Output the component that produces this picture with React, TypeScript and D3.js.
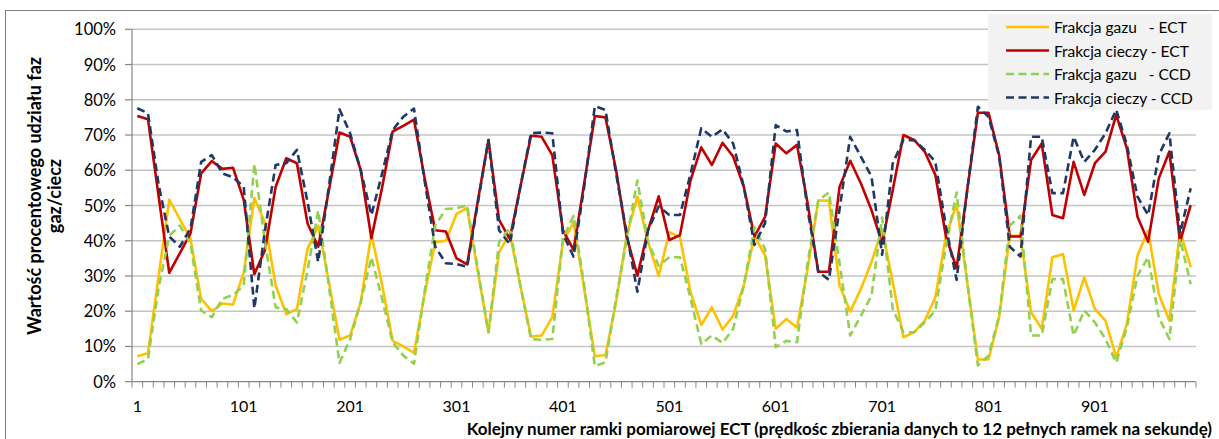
import React from "react";
import * as d3 from "d3";

// Categories: frame numbers 1, 11, 21, ... 991
const frames: number[] = d3.range(1, 1000, 10);
const xTickLabels = ["1", "101", "201", "301", "401", "501", "601", "701", "801", "901"];
const yTicks = [0, 10, 20, 30, 40, 50, 60, 70, 80, 90, 100];

const gasECT = [
  7.2, 8.1, 29.9, 51.7, 46.1, 40.5, 23.5, 20.0, 22.2, 21.9,
  31.0, 52.1, 45.2, 27.3, 19.2, 20.6, 37.7, 44.3, 28.4, 11.9,
  13.1, 22.6, 41.9, 27.6, 11.6, 10.0, 8.2, 24.8, 39.6, 40.0,
  47.6, 49.3, 31.3, 14.0, 36.7, 42.1, 27.3, 12.8, 13.1, 18.3,
  39.6, 45.2, 26.3, 7.2, 7.6, 22.6, 41.6, 52.5, 39.6, 30.0,
  42.4, 41.0, 25.4, 16.1, 21.1, 14.8, 18.7, 27.3, 41.4, 35.8,
  15.0, 17.8, 15.4, 32.0, 51.4, 51.4, 27.3, 19.9, 26.3, 33.9,
  43.3, 28.2, 12.6, 14.0, 17.3, 23.9, 41.4, 50.4, 28.2, 6.3,
  6.3, 18.3, 41.4, 41.4, 19.7, 15.0, 35.3, 36.2, 20.2, 29.6,
  20.6, 17.3, 6.9, 16.4, 35.8, 42.9, 24.9, 17.3, 42.9, 32.5,
];
const liquidECT = [
  75.4, 74.5, 52.7, 30.9, 36.5, 42.1, 59.1, 62.6, 60.4, 60.7,
  51.6, 30.5, 37.4, 55.3, 63.4, 62.0, 44.9, 38.3, 54.2, 70.7,
  69.5, 60.0, 40.7, 55.0, 71.0, 72.6, 74.4, 57.8, 43.0, 42.6,
  35.0, 33.3, 51.3, 68.6, 45.9, 40.5, 55.3, 69.8, 69.5, 64.3,
  43.0, 37.4, 56.3, 75.4, 75.0, 60.0, 41.0, 30.1, 43.0, 52.6,
  40.2, 41.6, 57.2, 66.5, 61.5, 67.8, 63.9, 55.3, 41.2, 46.8,
  67.6, 64.8, 67.2, 50.6, 31.2, 31.2, 55.3, 62.7, 56.3, 48.7,
  39.3, 54.4, 70.0, 68.6, 65.3, 58.7, 41.2, 32.2, 54.4, 76.3,
  76.3, 64.3, 41.2, 41.2, 62.9, 67.6, 47.3, 46.4, 62.4, 53.0,
  62.0, 65.3, 75.7, 66.2, 46.8, 39.7, 57.7, 65.3, 39.7, 50.1,
];
const gasCCD = [
  5.0, 6.4, 26.6, 41.4, 44.3, 39.1, 20.2, 18.3, 23.5, 24.6,
  27.3, 61.8, 39.6, 21.1, 20.6, 16.8, 31.6, 48.6, 27.3, 5.3,
  12.1, 22.6, 35.3, 23.6, 11.2, 7.4, 5.1, 25.6, 44.3, 49.0,
  49.2, 50.0, 32.0, 14.0, 39.6, 43.6, 27.3, 12.1, 11.9, 12.1,
  40.6, 47.1, 27.3, 4.4, 5.5, 23.6, 40.6, 57.1, 39.6, 32.9,
  35.3, 35.3, 23.6, 10.7, 13.1, 11.0, 15.0, 27.3, 43.8, 37.6,
  9.8, 11.6, 11.2, 33.9, 51.4, 53.7, 33.6, 13.1, 18.7, 24.4,
  46.6, 20.6, 14.1, 14.0, 16.8, 20.2, 38.6, 53.7, 28.2, 4.6,
  7.4, 18.7, 44.3, 47.1, 13.1, 13.1, 29.1, 29.1, 13.1, 20.2,
  16.8, 12.1, 5.4, 15.4, 30.1, 35.3, 18.3, 12.1, 40.5, 27.7,
];
const liquidCCD = [
  77.6, 76.2, 56.0, 41.2, 38.3, 43.5, 62.4, 64.3, 59.1, 58.0,
  55.3, 20.8, 43.0, 61.5, 62.0, 65.8, 51.0, 34.0, 55.3, 77.3,
  70.5, 60.0, 47.3, 59.0, 71.4, 75.2, 77.5, 57.0, 38.3, 33.6,
  33.4, 32.6, 50.6, 68.6, 43.0, 39.0, 55.3, 70.5, 70.7, 70.5,
  42.0, 35.5, 55.3, 78.2, 77.1, 59.0, 42.0, 25.5, 43.0, 49.7,
  47.3, 47.3, 59.0, 71.9, 69.5, 71.6, 67.6, 55.3, 38.8, 45.0,
  72.8, 71.0, 71.4, 48.7, 31.2, 28.9, 49.0, 69.5, 63.9, 58.2,
  36.0, 62.0, 68.5, 68.6, 65.8, 62.4, 44.0, 28.9, 54.4, 78.0,
  75.2, 63.9, 38.3, 35.5, 69.5, 69.5, 53.5, 53.5, 69.5, 62.4,
  65.8, 70.5, 77.2, 67.2, 52.5, 47.3, 64.3, 70.5, 42.1, 54.9,
];

const seriesNames = [
  "Frakcja gazu   - ECT",
  "Frakcja cieczy - ECT",
  "Frakcja gazu   - CCD",
  "Frakcja cieczy - CCD",
];

const FONT = "Lato, 'Liberation Sans', sans-serif";

export default function App() {
  const W = 1219;
  const H = 439;
  const left = 132;
  const right = 1196;
  const top = 29.3;
  const bottom = 381.7;

  const x = d3.scaleBand<number>().domain(frames).range([left, right]).padding(0);
  const bw = x.bandwidth();
  const cx = (f: number) => (x(f) as number) + bw / 2;
  const y = d3.scaleLinear().domain([0, 100]).range([bottom, top]);

  const line = d3
    .line<number>()
    .x((_, i) => cx(frames[i]))
    .y((d) => y(d));

  const series = [
    { name: seriesNames[0], data: gasECT, color: "#FFC000", dash: "" },
    { name: seriesNames[1], data: liquidECT, color: "#C00000", dash: "" },
    { name: seriesNames[2], data: gasCCD, color: "#92D050", dash: "8 4.5" },
    { name: seriesNames[3], data: liquidCCD, color: "#1F3864", dash: "8 4.5" },
  ];

  const labelFrames = xTickLabels.map((l) => +l);

  return (
    <svg
      width={W}
      height={H}
      style={{ position: "fixed", left: 0, top: 0, display: "block", background: "#fff" }}
      fontFamily={FONT}
    >
      <rect x={0} y={0} width={W} height={H} fill="#fff" />
      {/* outer chart border */}
      <rect x={5.5} y={10.5} width={W + 20} height={H + 20} fill="none" stroke="#7f7f7f" strokeWidth={1} />

      {/* gridlines */}
      {yTicks.slice(1).map((t) => (
        <line key={"g" + t} x1={left} x2={right} y1={y(t)} y2={y(t)} stroke="#c4c4c4" strokeWidth={1.5} />
      ))}

      {/* y axis */}
      <line x1={left} x2={left} y1={top} y2={bottom} stroke="#868686" strokeWidth={1.2} />
      {yTicks.map((t) => (
        <g key={"yt" + t}>
          <line x1={left - 7} x2={left} y1={y(t)} y2={y(t)} stroke="#868686" strokeWidth={1.2} />
          <text x={116} y={y(t)} textAnchor="end" dominantBaseline="central" fontSize={16.5} fill="#000">
            {t + "%"}
          </text>
        </g>
      ))}

      {/* x axis */}
      <line x1={left} x2={right} y1={bottom} y2={bottom} stroke="#868686" strokeWidth={1.2} />
      {frames.map((f) => (
        <line key={"xt" + f} x1={x(f) as number} x2={x(f) as number} y1={bottom} y2={bottom + 6} stroke="#868686" strokeWidth={1} />
      ))}
      <line x1={right} x2={right} y1={bottom} y2={bottom + 6} stroke="#868686" strokeWidth={1} />
      {labelFrames.map((f, i) => (
        <text key={"xl" + f} x={cx(f)} y={405} textAnchor="middle" dominantBaseline="central" fontSize={16} fill="#000">
          {xTickLabels[i]}
        </text>
      ))}

      {/* series */}
      {series.map((s) => (
        <path
          key={s.name}
          d={line(s.data) || ""}
          fill="none"
          stroke={s.color}
          strokeWidth={2.6}
          strokeDasharray={s.dash || undefined}
          strokeLinejoin="round"
        />
      ))}

      {/* legend */}
      <rect x={988} y={14} width={224} height={96} fill="#f2f2f2" />
      {series.map((s, i) => {
        const ly = 27 + i * 23.5;
        return (
          <g key={"lg" + i}>
            <line x1={1006} x2={1049} y1={ly} y2={ly} stroke={s.color} strokeWidth={2.6} strokeDasharray={s.dash || undefined} />
            <text x={1054} y={ly} dominantBaseline="central" fontSize={15.5} fill="#000" style={{ whiteSpace: "pre" }}>
              {s.name}
            </text>
          </g>
        );
      })}

      {/* axis titles */}
      <text
        transform={`translate(34,196) rotate(-90)`}
        textAnchor="middle"
        dominantBaseline="central"
        fontSize={18}
        fontWeight="bold"
        fill="#000"
      >
        Wartość procentowego udziału faz
      </text>
      <text
        transform={`translate(54,196) rotate(-90)`}
        textAnchor="middle"
        dominantBaseline="central"
        fontSize={18}
        fontWeight="bold"
        fill="#000"
      >
        gaz/ciecz
      </text>
      <text x={1212} y={428} textAnchor="end" dominantBaseline="central" fontSize={17} fontWeight="bold" fill="#000">
        Kolejny numer ramki pomiarowej ECT (prędkośc zbierania danych to 12 pełnych ramek na sekundę)
      </text>
    </svg>
  );
}
